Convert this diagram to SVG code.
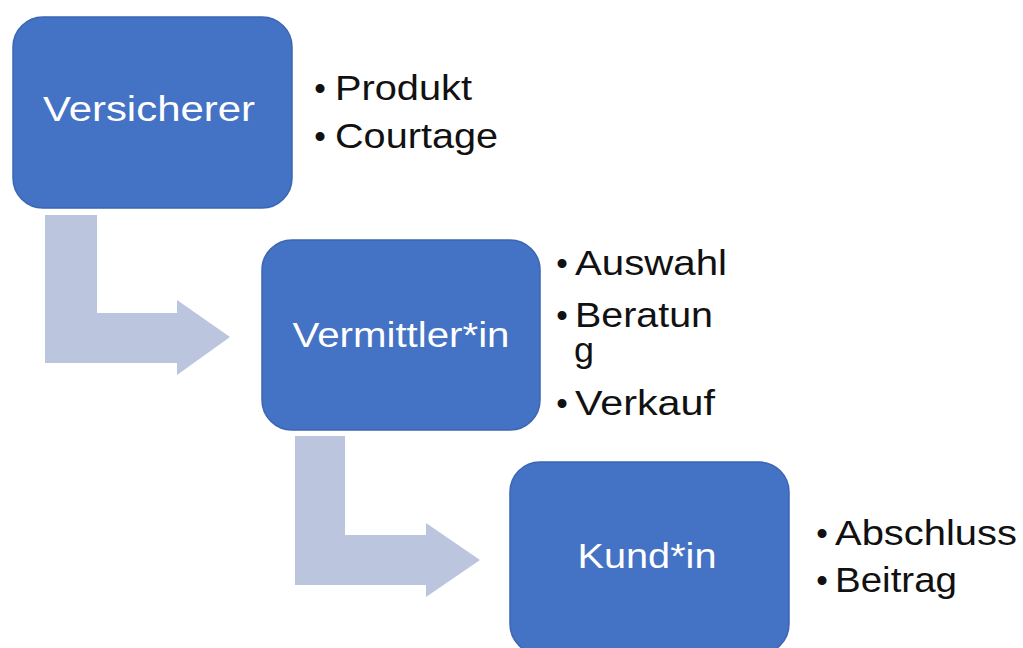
<svg xmlns="http://www.w3.org/2000/svg" width="1023" height="648" viewBox="0 0 1023 648">
<style>
.box{fill:#4472C4;stroke:#3B66B3;stroke-width:1.5}
.lbl{font-family:"Liberation Sans",Arial,sans-serif;font-size:35px;fill:#FFFFFF;text-anchor:middle}
.bt{font-family:"Liberation Sans",Arial,sans-serif;font-size:35px;fill:#111111}
.bul{font-family:"Liberation Sans",Arial,sans-serif;font-size:33px;fill:#111111;text-anchor:middle}
.arr{fill:#BCC5DE}
</style>
<rect width="1023" height="648" fill="#FFFFFF"/>
<g id="connectors">
<path class="arr" d="M45,215 H97 V313 H177 V300 L230,337 L177,375 V363 H45 Z"/>
<path class="arr" d="M295,436 H345 V535 H426 V523 L480,560 L426,597 V585 H295 Z"/>
</g>
<g id="versicherer">
<rect class="box" x="13" y="17" width="279" height="191" rx="30"/>
<text class="lbl" x="149" y="121" textLength="212" lengthAdjust="spacingAndGlyphs">Versicherer</text>
</g>
<g id="versicherer-items">
<text class="bul" x="320" y="100">•</text>
<text class="bt" x="335" y="100" textLength="137" lengthAdjust="spacingAndGlyphs">Produkt</text>
<text class="bul" x="320" y="148">•</text>
<text class="bt" x="335" y="148" textLength="163" lengthAdjust="spacingAndGlyphs">Courtage</text>
</g>
<g id="vermittlerin">
<rect class="box" x="262" y="240" width="278" height="190" rx="30"/>
<text class="lbl" x="401" y="347" textLength="217" lengthAdjust="spacingAndGlyphs">Vermittler*in</text>
</g>
<g id="vermittlerin-items">
<text class="bul" x="562" y="275">•</text>
<text class="bt" x="575" y="275" textLength="152" lengthAdjust="spacingAndGlyphs">Auswahl</text>
<text class="bul" x="562" y="327">•</text>
<text class="bt" x="575" y="327" textLength="138" lengthAdjust="spacingAndGlyphs">Beratun</text>
<text class="bt" x="574" y="362" textLength="20" lengthAdjust="spacingAndGlyphs">g</text>
<text class="bul" x="562" y="415">•</text>
<text class="bt" x="575" y="415" textLength="140" lengthAdjust="spacingAndGlyphs">Verkauf</text>
</g>
<g id="kundin">
<rect class="box" x="510" y="462" width="279" height="192" rx="30"/>
<text class="lbl" x="647" y="568" textLength="139" lengthAdjust="spacingAndGlyphs">Kund*in</text>
</g>
<g id="kundin-items">
<text class="bul" x="822" y="545">•</text>
<text class="bt" x="835" y="545" textLength="182" lengthAdjust="spacingAndGlyphs">Abschluss</text>
<text class="bul" x="822" y="592">•</text>
<text class="bt" x="835" y="592" textLength="122" lengthAdjust="spacingAndGlyphs">Beitrag</text>
</g>
</svg>
